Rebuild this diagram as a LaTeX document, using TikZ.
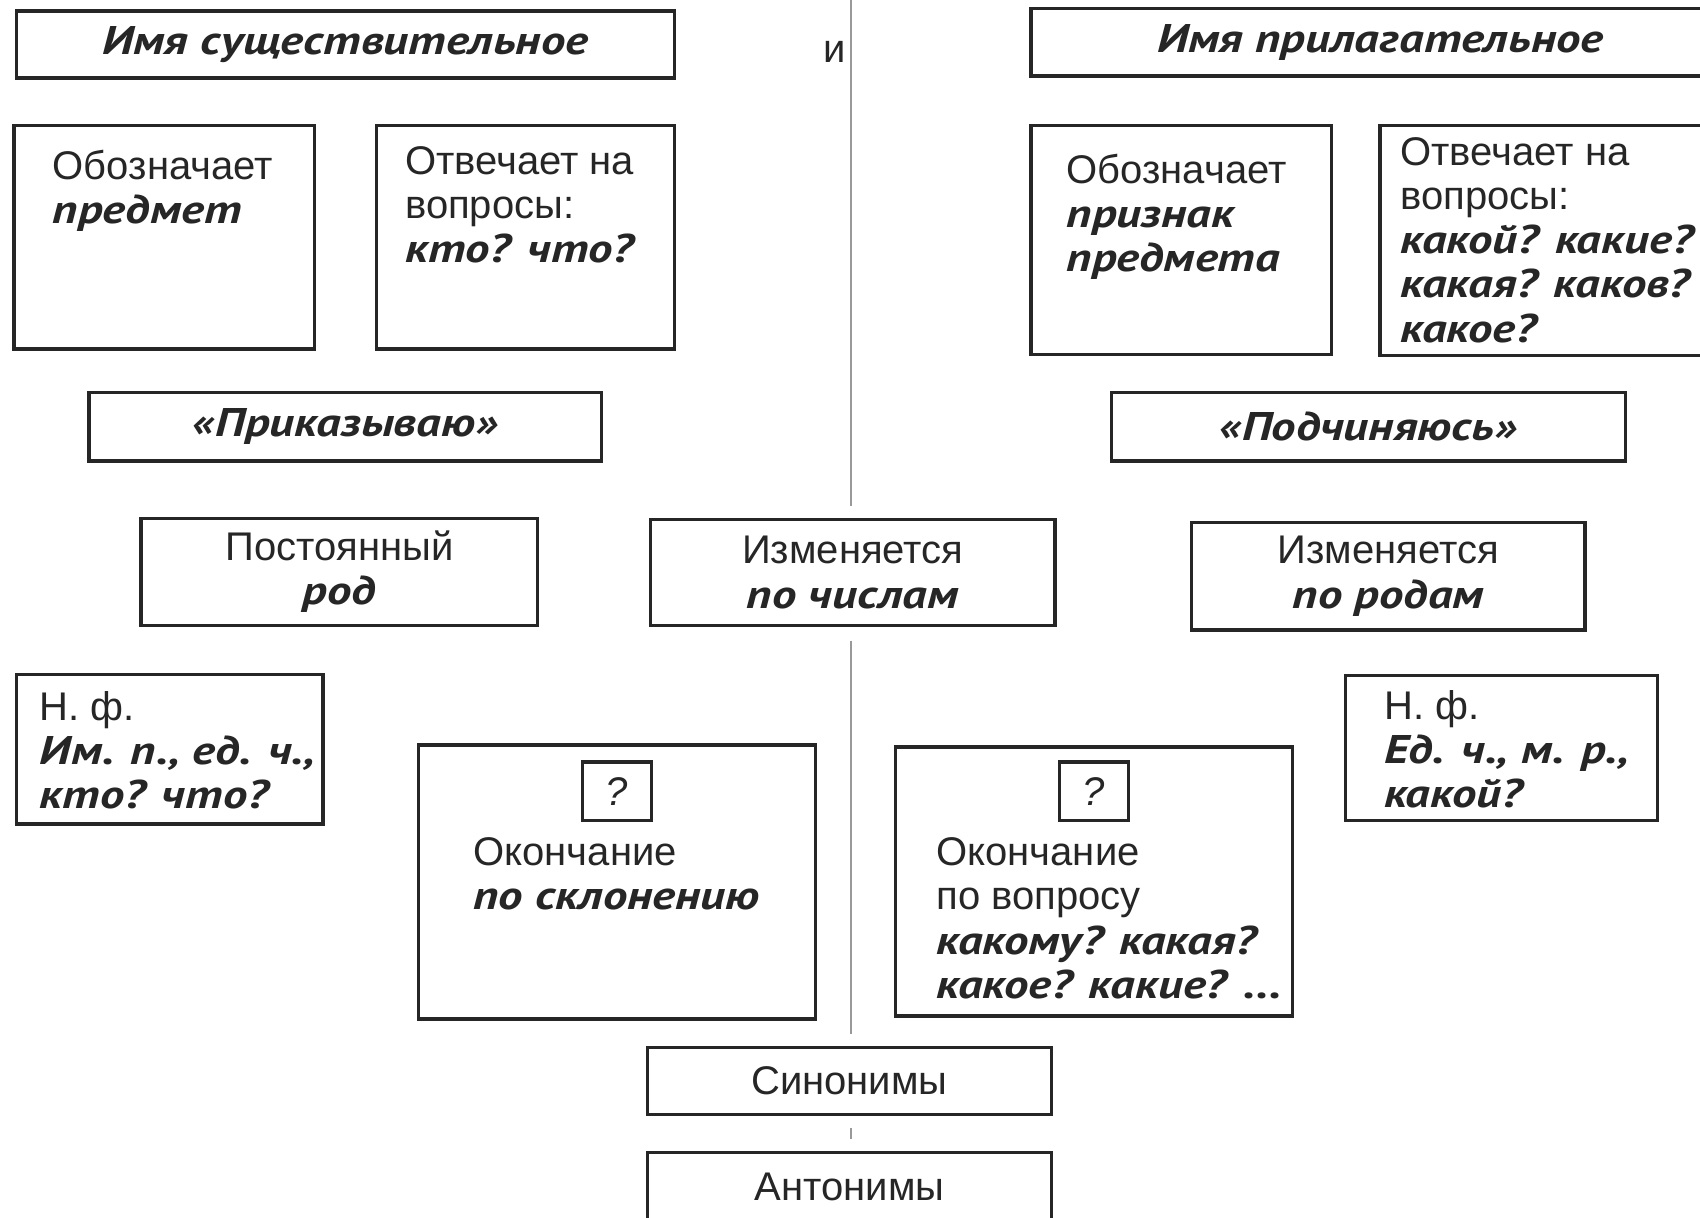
\documentclass[tikz,border=0pt]{standalone}
\usepackage{fontspec}
\setmainfont{Liberation Sans}
\newfontfamily\kwfont[FakeStretch=1.22]{PT Sans}
\usetikzlibrary{calc}

\newcommand{\kw}[1]{{\kwfont\bfseries\itshape #1}}

\begin{document}
\begin{tikzpicture}[x=0.02cm,y=-0.02cm, every node/.style={font=\fontsize{21}{23.2}\selectfont,text=black!85}]
    \tikzset{box/.style={draw=black!85,line width=1.8pt,fill=white,inner sep=0pt,align=center}}
    \tikzset{sz/.style 2 args={minimum width=#1*0.02cm,minimum height=#2*0.02cm}}
    \tikzset{txt/.style={anchor=north west,align=left,inner sep=0pt}}
    \tikzset{divider/.style={black!40,line width=1pt}}

    \useasboundingbox (0,0) rectangle (1568,1123);
    \clip (0,0) rectangle (1568,1123);

    % Titles
    \node[box,sz={607}{62}] (nounT) at (318.5,41) {\kw{Имя существительное}};
    \node (and) at (770,48) {и};
    \node[box,sz={644}{62}] (adjT) at (1273,39) {\kw{Имя прилагательное}};

    % Noun: meaning and questions
    \node[box,sz={277}{206}] (nounA) at (151.5,219) {};
    \node[txt] (nounAtxt) at ($(nounA.north west)+(37,24)$) {Обозначает\\ \kw{предмет}};
    \node[box,sz={275}{206}] (nounB) at (484.5,219) {};
    \node[txt] (nounBtxt) at ($(nounB.north west)+(28,20)$) {Отвечает на\\ вопросы:\\ \kw{кто? что?}};

    % Adjective: meaning and questions
    \node[box,sz={277}{211}] (adjA) at (1089.5,221.5) {};
    \node[txt] (adjAtxt) at ($(adjA.north west)+(34,27)$) {Обозначает\\ \kw{признак}\\ \kw{предмета}};
    \node[box,sz={317}{212}] (adjB) at (1431.5,222) {};
    \node[txt] (adjBtxt) at ($(adjB.north west)+(20,12)$) {Отвечает на\\ вопросы:\\ \kw{какой? какие?}\\ \kw{какая? каков?}\\ \kw{какое?}};

    % Roles
    \node[box,sz={473}{63}] (order) at (318.5,393.5) {\kw{«Приказываю»}};
    \node[box,sz={474}{63}] (obey) at (1262,393.5) {\kw{«Подчиняюсь»}};

    % Gender and number
    \node[box,sz={366}{99}] (gender) at (313,527.5) {Постоянный\\ \kw{род}};
    \node[box,sz={373}{98}] (number) at (786.5,528) {Изменяется\\ \kw{по числам}};
    \node[box,sz={363}{99}] (bygender) at (1280.5,531.5) {Изменяется\\ \kw{по родам}};

    % Initial forms
    \node[box,sz={283}{138}] (nfNoun) at (156.5,691) {};
    \node[txt] (nfNountxt) at ($(nfNoun.north west)+(23,17)$) {Н. ф.\\ \kw{Им. п., ед. ч.,}\\ \kw{кто? что?}};
    \node[box,sz={288}{134}] (nfAdj) at (1385,690) {};
    \node[txt] (nfAdjtxt) at ($(nfAdj.north west)+(37,15)$) {Н. ф.\\ \kw{Ед. ч., м. р.,}\\ \kw{какой?}};

    % Endings
    \node[box,sz={366}{253}] (endNoun) at (569,813.5) {};
    \node[box,sz={64}{54}] (qNoun) at (569,730) {\textit{?}};
    \node[txt] (endNountxt) at ($(endNoun.north west)+(52,87)$) {Окончание\\ \kw{по склонению}};
    \node[box,sz={366}{248}] (endAdj) at (1009,813) {};
    \node[box,sz={64}{54}] (qAdj) at (1009,730) {\textit{?}};
    \node[txt] (endAdjtxt) at ($(endAdj.north west)+(39,85)$) {Окончание\\ по вопросу\\ \kw{какому? какая?}\\ \kw{какое? какие? ...}};

    % Common
    \node[box,sz={373}{62}] (syn) at (783.5,997) {Синонимы};
    \node[box,sz={373}{64}] (ant) at (783.5,1095) {Антонимы};

    % Divider
    \coordinate (top) at (785,0);
    \draw[divider] (top) -- ([yshift=6pt]top |- number.north);
    \draw[divider] ([yshift=-7pt]top |- number.south) -- ([yshift=6pt]top |- syn.north);
    \draw[divider] ([yshift=-6pt]top |- syn.south) -- ([yshift=6pt]top |- ant.north);
\end{tikzpicture}
\end{document}
